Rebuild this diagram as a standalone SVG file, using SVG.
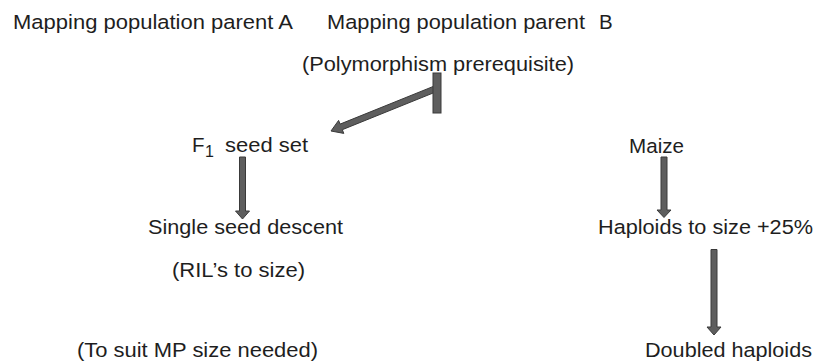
<svg xmlns="http://www.w3.org/2000/svg" width="817" height="362" viewBox="0 0 817 362">
<style>
text{font-family:"Liberation Sans",Arial,sans-serif;font-size:20.5px;fill:#1e1e1e}
.sub{font-size:16px}
.arr{fill:#5e5e5e;stroke:#3a3a3a;stroke-width:1}
</style>
<rect width="817" height="362" fill="#ffffff"/>
<g id="parentA"><text x="13" y="29" textLength="280" lengthAdjust="spacingAndGlyphs">Mapping population parent A</text></g>
<g id="parentB"><text x="327" y="29" textLength="258" lengthAdjust="spacingAndGlyphs">Mapping population parent</text><text x="599" y="29">B</text></g>
<g id="polymorphism"><text x="302" y="71" textLength="272" lengthAdjust="spacingAndGlyphs">(Polymorphism prerequisite)</text></g>
<g id="f1"><text x="192" y="152">F</text><text class="sub" x="205" y="157">1</text><text x="225" y="152" textLength="83" lengthAdjust="spacingAndGlyphs">seed set</text></g>
<g id="maize"><text x="629" y="153" textLength="55" lengthAdjust="spacingAndGlyphs">Maize</text></g>
<g id="ssd"><text x="148" y="234" textLength="195" lengthAdjust="spacingAndGlyphs">Single seed descent</text></g>
<g id="haploids"><text x="598" y="234" textLength="215" lengthAdjust="spacingAndGlyphs">Haploids to size +25%</text></g>
<g id="ril"><text x="172" y="277" textLength="133" lengthAdjust="spacingAndGlyphs">(RIL’s to size)</text></g>
<g id="suit"><text x="77" y="357" textLength="241" lengthAdjust="spacingAndGlyphs">(To suit MP size needed)</text></g>
<g id="doubled"><text x="645" y="357" textLength="167" lengthAdjust="spacingAndGlyphs">Doubled haploids</text></g>
<g id="connectors">
<polygon class="arr" points="433.9,86.2 340.1,124.1 338.6,120.4 331,131 343.8,133.4 342.3,129.7 436.1,91.8"/>
<rect class="arr" x="433" y="73" width="8" height="40"/>
<polygon class="arr" points="239.5,157 245.5,157 245.5,211 249.5,211 242.5,219 235.5,211 239.5,211"/>
<polygon class="arr" points="661,157 667,157 667,210 671,210 664,217.5 657,210 661,210"/>
<polygon class="arr" points="711,249.5 717,249.5 717,327 721,327 714,335 707,327 711,327"/>
</g>
</svg>
